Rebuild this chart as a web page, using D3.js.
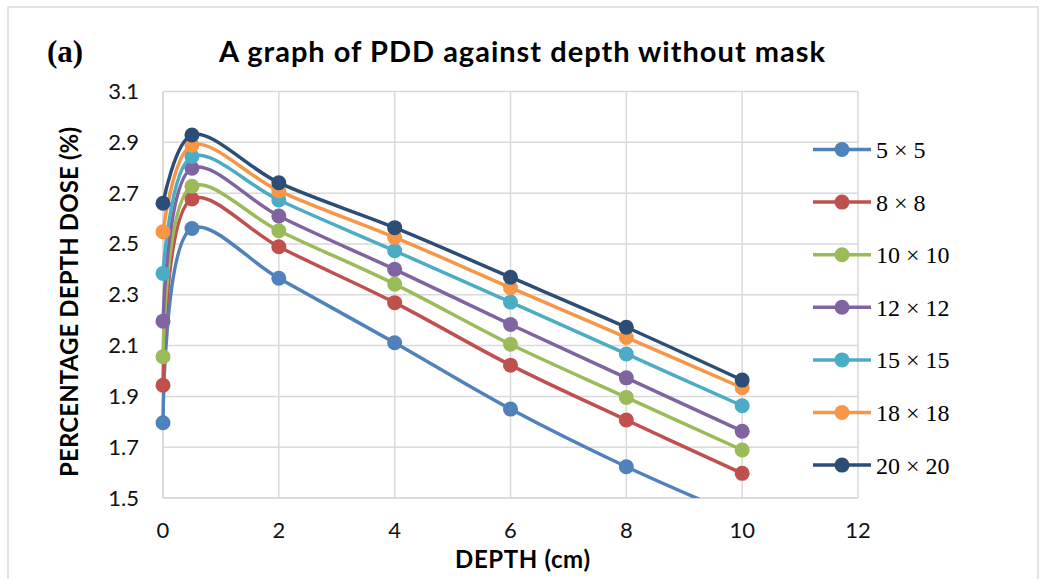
<!DOCTYPE html>
<html><head><meta charset="utf-8">
<script src="https://cdn.jsdelivr.net/npm/d3@7"></script>
<style>html,body{margin:0;padding:0;background:#fff;}svg{display:block;}</style>
</head><body>
<svg id="chart" width="1040" height="579"></svg>
<script>
const depths = [0, 0.5, 2, 4, 6, 8, 10];
const seriesNames = ["5 × 5", "8 × 8", "10 × 10", "12 × 12", "15 × 15", "18 × 18", "20 × 20"];
const colors = ["#4f81bd", "#c0504d", "#9bbb59", "#8064a2", "#4bacc6", "#f79646", "#2c4d75"];
const s5x5   = [1.796, 2.561, 2.365, 2.111, 1.850, 1.623, 1.423];
const s8x8   = [1.944, 2.677, 2.489, 2.269, 2.023, 1.807, 1.597];
const s10x10 = [2.056, 2.727, 2.552, 2.342, 2.105, 1.896, 1.689];
const s12x12 = [2.196, 2.798, 2.610, 2.400, 2.183, 1.973, 1.763];
const s15x15 = [2.384, 2.844, 2.673, 2.473, 2.271, 2.067, 1.863];
const s18x18 = [2.548, 2.889, 2.709, 2.526, 2.328, 2.132, 1.934];
const s20x20 = [2.660, 2.929, 2.741, 2.564, 2.369, 2.172, 1.964];
const allSeries = [s5x5, s8x8, s10x10, s12x12, s15x15, s18x18, s20x20];
const xTicks = [0, 2, 4, 6, 8, 10, 12];
const yTicks = [1.5, 1.7, 1.9, 2.1, 2.3, 2.5, 2.7, 2.9, 3.1];

const svg = d3.select("#chart");
const x = d3.scaleLinear().domain([0, 12]).range([163, 858]);
const y = d3.scaleLinear().domain([1.5, 3.1]).range([498, 91.5]);

// outer chart border
svg.append("rect").attr("x", 8).attr("y", 7).attr("width", 1030).attr("height", 600)
  .attr("fill", "none").attr("stroke", "#d9d9d9").attr("stroke-width", 1.5);

// gridlines
svg.append("g").selectAll("line").data(yTicks.slice(1)).join("line")
  .attr("x1", x(0)).attr("x2", x(12)).attr("y1", d => y(d)).attr("y2", d => y(d))
  .attr("stroke", "#d9d9d9").attr("stroke-width", 1.5);
svg.append("g").selectAll("line").data(xTicks.slice(1)).join("line")
  .attr("y1", y(1.5)).attr("y2", y(3.1)).attr("x1", d => x(d)).attr("x2", d => x(d))
  .attr("stroke", "#d9d9d9").attr("stroke-width", 1.5);
// axis lines
svg.append("line").attr("x1", x(0)).attr("x2", x(0)).attr("y1", y(1.5)).attr("y2", y(3.1))
  .attr("stroke", "#cfcfcf").attr("stroke-width", 1.5);
svg.append("line").attr("x1", x(0)).attr("x2", x(12)).attr("y1", y(1.5)).attr("y2", y(1.5))
  .attr("stroke", "#cfcfcf").attr("stroke-width", 1.5);

// tick labels
const tickFont = "Lato, sans-serif";
svg.append("g").selectAll("text").data(yTicks).join("text")
  .attr("x", 139).attr("y", d => y(d) + 7.5).attr("text-anchor", "end")
  .attr("font-family", tickFont).attr("font-size", 22).attr("fill", "#111")
  .text(d => d.toFixed(1));
svg.append("g").selectAll("text").data(xTicks).join("text")
  .attr("x", d => x(d)).attr("y", 538).attr("text-anchor", "middle")
  .attr("font-family", tickFont).attr("font-size", 22).attr("fill", "#111")
  .text(d => d);

// titles
svg.append("text").attr("x", 219).attr("y", 62)
  .attr("font-family", tickFont).attr("font-weight", "bold").attr("font-size", 29)
  .attr("textLength", 606).attr("lengthAdjust", "spacing")
  .attr("fill", "#000").text("A graph of PDD against depth without mask");
svg.append("text").attr("x", 47).attr("y", 62)
  .attr("font-family", "'Liberation Serif', serif").attr("font-weight", "bold").attr("font-size", 31)
  .attr("fill", "#000").text("(a)");
svg.append("text").attr("x", 455).attr("y", 568)
  .attr("font-family", tickFont).attr("font-weight", "bold").attr("font-size", 24)
  .attr("textLength", 135).attr("lengthAdjust", "spacing")
  .attr("fill", "#000").text("DEPTH (cm)");
svg.append("text").attr("transform", "translate(78,477) rotate(-90)")
  .attr("font-family", tickFont).attr("font-weight", "bold").attr("font-size", 24)
  .attr("textLength", 350).attr("lengthAdjust", "spacing")
  .attr("fill", "#000").text("PERCENTAGE DEPTH DOSE (%)");

// clip
svg.append("clipPath").attr("id", "plotclip").append("rect")
  .attr("x", x(0) - 30).attr("y", y(3.1) - 30).attr("width", x(12) - x(0) + 60).attr("height", y(1.5) - y(3.1) + 30);

const line = d3.line().x((d, i) => x(depths[i])).y(d => y(d)).curve(d3.curveCatmullRom.alpha(0.5));
const plot = svg.append("g").attr("clip-path", "url(#plotclip)");
allSeries.forEach((s, k) => {
  const g = plot.append("g");
  g.append("path").attr("d", line(s)).attr("fill", "none").attr("stroke", colors[k])
    .attr("stroke-width", 3.5).attr("stroke-linejoin", "round");
  g.selectAll("circle").data(s).join("circle")
    .attr("cx", (d, i) => x(depths[i])).attr("cy", d => y(d)).attr("r", 7.5)
    .attr("fill", colors[k]);
});

// legend
const leg = svg.append("g");
seriesNames.forEach((name, k) => {
  const ly = 149.5 + k * 52.6;
  leg.append("line").attr("x1", 813).attr("x2", 871).attr("y1", ly).attr("y2", ly)
    .attr("stroke", colors[k]).attr("stroke-width", 3.5);
  leg.append("circle").attr("cx", 842).attr("cy", ly).attr("r", 7.5).attr("fill", colors[k]);
  leg.append("text").attr("x", 876).attr("y", ly + 8.5)
    .attr("font-family", "'Liberation Serif', 'Times New Roman', serif").attr("font-size", 24)
    .attr("fill", "#000").text(name);
});
</script>
</body></html>
